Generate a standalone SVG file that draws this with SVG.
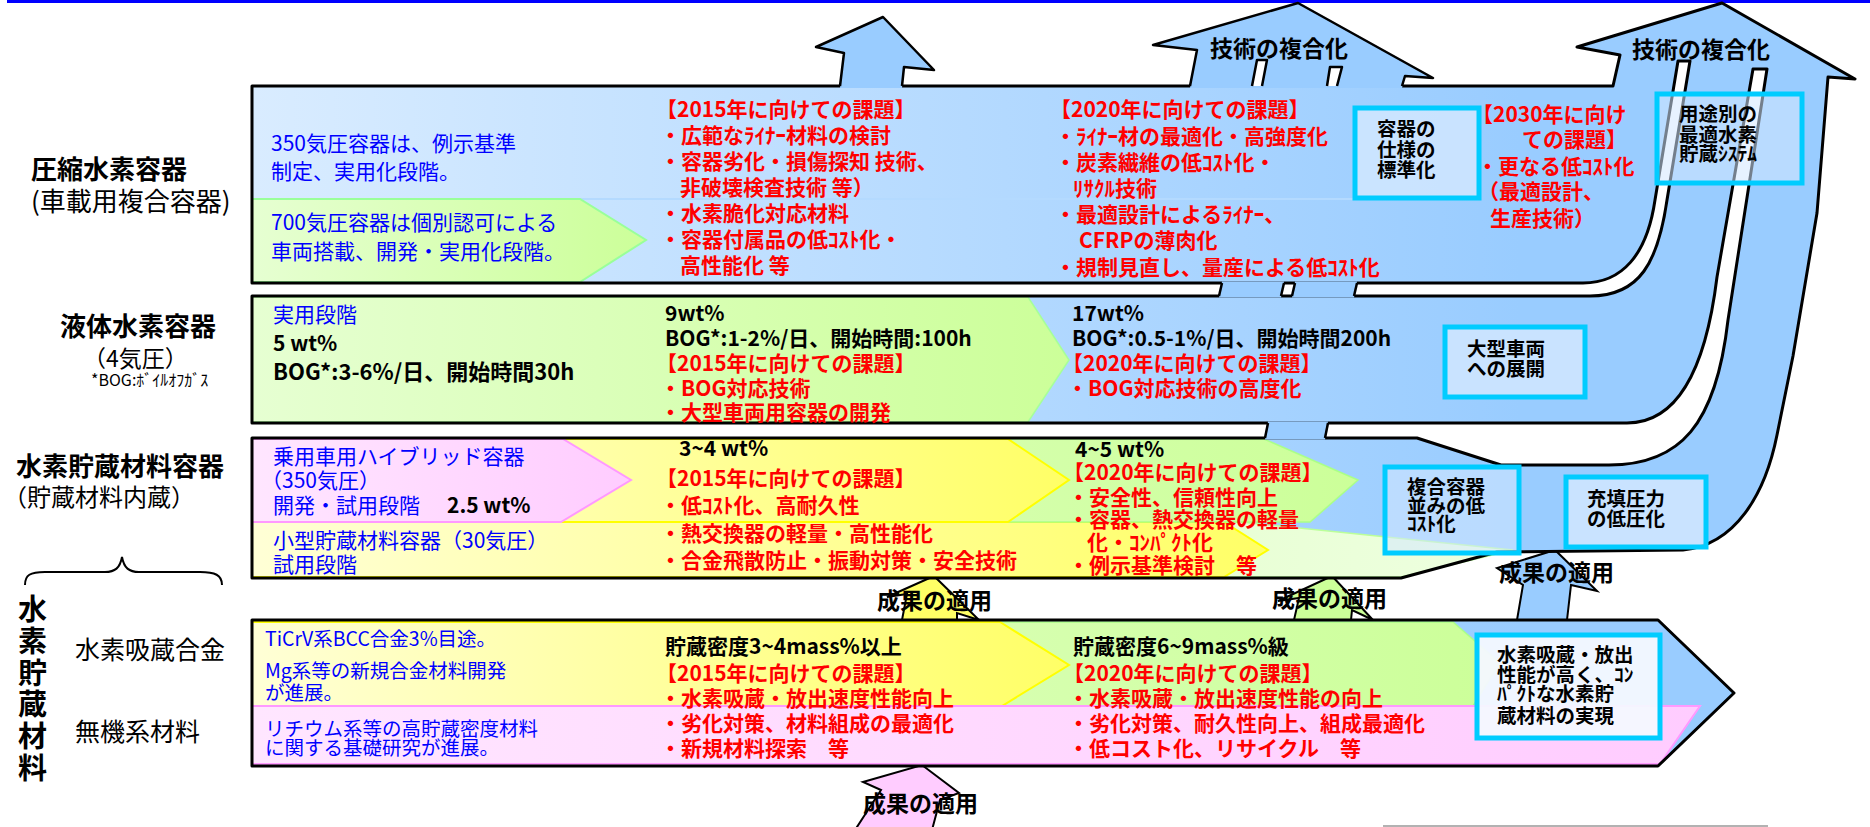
<svg xmlns="http://www.w3.org/2000/svg" width="1870" height="827" viewBox="0 0 1870 827">
<defs>
<linearGradient id="gBlue" gradientUnits="userSpaceOnUse" x1="252" y1="0" x2="1520" y2="0"><stop offset="0" stop-color="#D9ECFF"/><stop offset="1" stop-color="#99CCFF"/></linearGradient>
<linearGradient id="gGreen" x1="0" y1="0" x2="1" y2="0"><stop offset="0" stop-color="#E6FFD2"/><stop offset="1" stop-color="#CCFF99"/></linearGradient>
<linearGradient id="gGreenL" x1="0" y1="0" x2="1" y2="0"><stop offset="0" stop-color="#D6FFB0"/><stop offset="1" stop-color="#EEFFE0"/></linearGradient>
<linearGradient id="gYellow" x1="0" y1="0" x2="1" y2="0"><stop offset="0" stop-color="#FFFFD6"/><stop offset="1" stop-color="#FFFF66"/></linearGradient>
<linearGradient id="gPink" x1="0" y1="0" x2="1" y2="0"><stop offset="0" stop-color="#FFE6FF"/><stop offset="1" stop-color="#FFCCFF"/></linearGradient>
<style>
text{font-family:"Noto Sans CJK JP","Noto Sans CJK SC",sans-serif}
.ol{fill:none;stroke:#000;stroke-width:3;stroke-linejoin:round}
.ols{fill:none;stroke:#000;stroke-width:2.5;stroke-linejoin:round}
.bx{fill:#D4E8FF;fill-opacity:0.8;stroke:#00CCFF;stroke-width:5}
.r{fill:#FF0000;font-weight:bold;font-size:21px}
.b{fill:#0000FF;font-weight:normal;font-size:21px}
.b2{fill:#0000FF;font-size:19.5px}
.k{fill:#000;font-weight:bold;font-size:21px}
.t{fill:#000;font-weight:bold;font-size:19.5px}
.a{fill:#000;font-weight:bold;font-size:23px}
.L{fill:#000;font-weight:bold;font-size:26px}
.l{fill:#000;font-weight:normal;font-size:25px}
</style>
</defs>
<rect x="0" y="0" width="1870" height="827" fill="#FFFFFF"/>
<rect x="7" y="0" width="1863" height="3" fill="#0000FF"/>
<line x1="1383" y1="826" x2="1768" y2="826" stroke="#999999" stroke-width="1.5"/>

<!-- left labels -->
<g id="label-compressed">
<text class="L"><tspan x="31" y="179">圧縮水素容器</tspan><tspan class="l" x="31" y="211" style="font-size:26px">(車載用複合容器)</tspan></text>
</g>
<g id="label-liquid">
<text class="L"><tspan x="60" y="336">液体水素容器</tspan><tspan class="l" x="83" y="367" style="font-size:23px">（4気圧）</tspan><tspan class="l" x="91" y="386" style="font-size:16px">*BOG:ﾎﾞｲﾙｵﾌｶﾞｽ</tspan></text>
</g>
<g id="label-material-container">
<text class="L"><tspan x="16" y="476">水素貯蔵材料容器</tspan><tspan class="l" x="3" y="506" style="font-size:24px">（貯蔵材料内蔵）</tspan></text>
<path d="M25,585 C25,575 30,572 45,572 L105,572 C115,572 120,568 122,557 C124,568 129,572 139,572 L200,572 C215,572 222,575 222,585" fill="none" stroke="#000" stroke-width="2"/>
</g>
<g id="label-materials">
<text class="L" style="font-size:29px"><tspan x="18" y="620">水</tspan><tspan x="18" y="652">素</tspan><tspan x="18" y="684">貯</tspan><tspan x="18" y="715">蔵</tspan><tspan x="18" y="747">材</tspan><tspan x="18" y="779">料</tspan></text>
<text class="l" x="75" y="659">水素吸蔵合金</text>
<text class="l" x="75" y="741">無機系材料</text>
</g>

<!-- small result arrows (under bands) -->
<g id="connectors">
<polygon id="arrow-yellow" points="902,620 907,594 887,597 934,576 979,620 957,613 957,620" fill="#FFFF66" stroke="#000" stroke-width="2"/>
<polygon id="arrow-green" points="1294,620 1299,598 1278,601 1332,576 1373,620 1352,610 1351,620" fill="#CCFF99" stroke="#000" stroke-width="2"/>
<polygon id="arrow-blue" points="1517,620 1523,585 1497,568 1555,550 1597,591 1571,585 1567,620" fill="#99CCFF" stroke="#000" stroke-width="2"/>
<polygon id="arrow-pink" points="855,830 881,790 863,782 922,765 959,793 940,800 932,830" fill="#FFCCFF" stroke="#000" stroke-width="2"/>
</g>

<!-- band 4: hydrogen storage materials -->
<g id="band-materials">
<path d="M252,620 H1658 L1734,693 L1658,766 H252 Z" fill="url(#gBlue)"/>
<polygon points="252,622 1453,622 1500,663 1473,706 252,706" fill="url(#gGreen)" stroke="#AAFF88" stroke-width="1.5"/>
<polygon points="252,622 1000,622 1069,665 1002,706 252,706" fill="url(#gYellow)" stroke="#FFFF00" stroke-width="2"/>
<polygon points="252,706 1700,706 1660,764 252,764" fill="url(#gPink)" stroke="#FF99FF" stroke-width="2"/>
<path d="M252,620 H1658 L1734,693 L1658,766 H252 Z" class="ol"/>
</g>

<!-- bands 1-3 + big right arrow -->
<g id="band-complex">
<path id="cx" d="M252,86 H1613 L1620,55 L1577,47 L1722,3 L1855,79 L1828,77 L1817,213 L1793,356 L1777,435 C1765,495 1735,545 1683,550 L1497,552 L1401,578 H252 V438 H1417 L1501,465 H1609 C1680,465 1716,425 1728,320 L1767,69 L1753,69 L1717,277 C1705,375 1675,423 1627,423 H252 V296 H1590 C1640,296 1658,262 1667,200 L1690,61 L1678,61 L1655,200 C1647,255 1622,283 1583,283 H252 Z" fill="url(#gBlue)"/>
<line x1="252" y1="199" x2="1360" y2="199" stroke="#B4DAFF" stroke-width="2"/>
<polygon points="252,199 580,199 646,240 580,282 252,282" fill="url(#gGreen)" stroke="#99FF99" stroke-width="2"/>
<polygon points="252,297 1028,297 1069,360 1028,422 252,422" fill="url(#gGreen)" stroke="#A6FF99" stroke-width="1.5"/>
<polygon points="252,522 1240,522 1513,550 1401,577 252,577" fill="url(#gGreenL)" stroke="#BBFF99" stroke-width="1.5"/>
<polygon points="252,522 1224,522 1268,550 1224,577 252,577" fill="url(#gYellow)" stroke="#FFFF00" stroke-width="2"/>
<polygon points="252,439 1264,439 1358,480 1310,522 252,522" fill="url(#gGreen)" stroke="#AAFF88" stroke-width="1.5"/>
<polygon points="252,439 1008,439 1069,480 1008,522 252,522" fill="url(#gYellow)" stroke="#FFFF00" stroke-width="2"/>
<polygon points="252,439 563,439 631,480 561,522 252,522" fill="url(#gPink)" stroke="#FF99FF" stroke-width="2"/>
<path d="M252,86 H1613 L1620,55 L1577,47 L1722,3 L1855,79 L1828,77 L1817,213 L1793,356 L1777,435 C1765,495 1735,545 1683,550 L1497,552 L1401,578 H252 V438 H1417 L1501,465 H1609 C1680,465 1716,425 1728,320 L1767,69 L1753,69 L1717,277 C1705,375 1675,423 1627,423 H252 V296 H1590 C1640,296 1658,262 1667,200 L1690,61 L1678,61 L1655,200 C1647,255 1622,283 1583,283 H252 Z" class="ol"/>
</g>

<!-- arrows on top of band 1 and strand pieces between bands -->
<g id="arrow-small">
<polygon points="840,88 844,53 816,47 883,17 934,70 904,67 902,88" fill="#99CCFF"/>
<polyline points="840,86 844,53 816,47 883,17 934,70 904,67 902,86" class="ols"/>
</g>
<g id="arrow-middle">
<polygon points="1190,88 1197,50 1153,45 1298,3 1433,78 1405,76 1402,88" fill="#99CCFF"/>
<polyline points="1190,86 1197,50 1153,45 1298,3 1433,78 1405,76 1402,86" class="ols"/>
<polygon points="1252,86 1257,60 1267,60 1262,86" fill="#FFFFFF"/>
<polyline points="1252,86 1257,60 1267,60 1262,86" class="ols"/>
<polygon points="1327,86 1330,67 1342,67 1337,86" fill="#FFFFFF"/>
<polyline points="1327,86 1330,67 1342,67 1337,86" class="ols"/>
<text class="a" x="1210" y="57">技術の複合化</text>
</g>
<g id="strand-pieces">
<polygon points="1222,281.5 1284,281.5 1281,297.5 1219,297.5" fill="#99CCFF"/>
<line x1="1222" y1="283" x2="1219" y2="296" class="ols"/>
<line x1="1284" y1="283" x2="1281" y2="296" class="ols"/>
<polygon points="1295,281.5 1357,281.5 1354,297.5 1292,297.5" fill="#99CCFF"/>
<line x1="1295" y1="283" x2="1292" y2="296" class="ols"/>
<line x1="1357" y1="283" x2="1354" y2="296" class="ols"/>
<polygon points="1268,421.5 1328,421.5 1325,439.5 1265,439.5" fill="#99CCFF"/>
<line x1="1268" y1="423" x2="1265" y2="438" class="ols"/>
<line x1="1328" y1="423" x2="1325" y2="438" class="ols"/>
</g>
<g id="arrow-right-label"><text class="a" x="1632" y="58">技術の複合化</text></g>

<!-- goal boxes -->
<g id="box-standard">
<rect x="1355" y="108" width="124" height="90" class="bx"/>
<text class="t"><tspan x="1377" y="136">容器の</tspan><tspan x="1377" y="157">仕様の</tspan><tspan x="1377" y="177">標準化</tspan></text>
</g>
<g id="box-system">
<rect x="1657" y="94" width="145" height="89" class="bx" style="fill-opacity:0.55"/>
<text class="t"><tspan x="1679" y="121">用途別の</tspan><tspan x="1679" y="142">最適水素</tspan><tspan x="1679" y="161">貯蔵ｼｽﾃﾑ</tspan></text>
</g>
<g id="box-large-vehicle">
<rect x="1445" y="327" width="140" height="70" class="bx"/>
<text class="t"><tspan x="1467" y="356">大型車両</tspan><tspan x="1467" y="376">への展開</tspan></text>
</g>
<g id="box-lowcost">
<rect x="1385" y="467" width="134" height="86" class="bx" style="fill-opacity:0.55"/>
<text class="t"><tspan x="1407" y="494">複合容器</tspan><tspan x="1407" y="513">並みの低</tspan><tspan x="1407" y="531">ｺｽﾄ化</tspan></text>
</g>
<g id="box-pressure">
<rect x="1566" y="477" width="140" height="70" class="bx"/>
<text class="t"><tspan x="1587" y="506">充填圧力</tspan><tspan x="1587" y="526">の低圧化</tspan></text>
</g>
<g id="box-compact">
<rect x="1477" y="635" width="183" height="103" class="bx" style="fill:#F4F8FF;fill-opacity:0.95"/>
<text class="t"><tspan x="1497" y="662">水素吸蔵・放出</tspan><tspan x="1497" y="682">性能が高く、ｺﾝ</tspan><tspan x="1497" y="701">ﾊﾟｸﾄな水素貯</tspan><tspan x="1497" y="723">蔵材料の実現</tspan></text>
</g>

<!-- band 1 texts -->
<g id="text-band1">
<text class="b"><tspan x="271" y="151">350気圧容器は、例示基準</tspan><tspan x="271" y="179">制定、実用化段階。</tspan></text>
<text class="b"><tspan x="271" y="230">700気圧容器は個別認可による</tspan><tspan x="271" y="259">車両搭載、開発・実用化段階。</tspan></text>
<text class="r"><tspan x="656" y="117">【2015年に向けての課題】</tspan><tspan x="660" y="143">・広範なﾗｲﾅｰ材料の検討</tspan><tspan x="660" y="169">・容器劣化・損傷探知 技術、</tspan><tspan x="680" y="195">非破壊検査技術 等）</tspan><tspan x="660" y="221">・水素脆化対応材料</tspan><tspan x="660" y="247">・容器付属品の低ｺｽﾄ化・</tspan><tspan x="680" y="273">高性能化 等</tspan></text>
<text class="r"><tspan x="1050" y="117">【2020年に向けての課題】</tspan><tspan x="1055" y="144">・ﾗｲﾅｰ材の最適化・高強度化</tspan><tspan x="1055" y="170">・炭素繊維の低ｺｽﾄ化・</tspan><tspan x="1073" y="196">ﾘｻｸﾙ技術</tspan><tspan x="1055" y="222">・最適設計によるﾗｲﾅｰ、</tspan><tspan x="1079" y="248">CFRPの薄肉化</tspan><tspan x="1055" y="275">・規制見直し、量産による低ｺｽﾄ化</tspan></text>
<text class="r"><tspan x="1472" y="122">【2030年に向け</tspan><tspan x="1522" y="147">ての課題】</tspan><tspan x="1477" y="174">・更なる低ｺｽﾄ化</tspan><tspan x="1478" y="199">（最適設計、</tspan><tspan x="1490" y="226">生産技術）</tspan></text>
</g>

<!-- band 2 texts -->
<g id="text-band2">
<text class="k"><tspan class="b" x="273" y="322">実用段階</tspan><tspan x="273" y="351">5 wt%</tspan><tspan x="273" y="380" style="font-size:22px">BOG*:3-6%/日、開始時間30h</tspan></text>
<text class="k"><tspan x="665" y="321">9wt%</tspan><tspan x="665" y="346">BOG*:1-2%/日、開始時間:100h</tspan><tspan class="r" x="656" y="371">【2015年に向けての課題】</tspan><tspan class="r" x="660" y="396">・BOG対応技術</tspan><tspan class="r" x="660" y="420">・大型車両用容器の開発</tspan></text>
<text class="k"><tspan x="1072" y="321">17wt%</tspan><tspan x="1072" y="346">BOG*:0.5-1%/日、開始時間200h</tspan><tspan class="r" x="1062" y="371">【2020年に向けての課題】</tspan><tspan class="r" x="1067" y="396">・BOG対応技術の高度化</tspan></text>
</g>

<!-- band 3 texts -->
<g id="text-band3">
<text class="b"><tspan x="273" y="464">乗用車用ハイブリッド容器</tspan><tspan x="261" y="488">（350気圧）</tspan><tspan x="273" y="513">開発・試用段階</tspan><tspan class="k" x="447" y="513">2.5 wt%</tspan></text>
<text class="b"><tspan x="273" y="548">小型貯蔵材料容器（30気圧）</tspan><tspan x="273" y="572">試用段階</tspan></text>
<text class="r"><tspan class="k" x="679" y="456">3~4 wt%</tspan><tspan x="656" y="486">【2015年に向けての課題】</tspan><tspan x="660" y="513">・低ｺｽﾄ化、高耐久性</tspan><tspan x="660" y="541">・熱交換器の軽量・高性能化</tspan><tspan x="660" y="568">・合金飛散防止・振動対策・安全技術</tspan></text>
<text class="r"><tspan class="k" x="1075" y="457">4~5 wt%</tspan><tspan x="1063" y="480">【2020年に向けての課題】</tspan><tspan x="1068" y="505">・安全性、信頼性向上</tspan><tspan x="1068" y="527">・容器、熱交換器の軽量</tspan><tspan x="1087" y="550">化・ｺﾝﾊﾟｸﾄ化</tspan><tspan x="1068" y="573">・例示基準検討　等</tspan></text>
</g>

<!-- band 4 texts -->
<g id="text-band4">
<text class="b2"><tspan x="265" y="646">TiCrV系BCC合金3%目途。</tspan><tspan x="265" y="678">Mg系等の新規合金材料開発</tspan><tspan x="265" y="700">が進展。</tspan></text>
<text class="b2"><tspan x="265" y="736">リチウム系等の高貯蔵密度材料</tspan><tspan x="265" y="755">に関する基礎研究が進展。</tspan></text>
<text class="r"><tspan class="k" x="665" y="654">貯蔵密度3~4mass%以上</tspan><tspan x="656" y="681">【2015年に向けての課題】</tspan><tspan x="660" y="706">・水素吸蔵・放出速度性能向上</tspan><tspan x="660" y="731">・劣化対策、材料組成の最適化</tspan><tspan x="660" y="756">・新規材料探索　等</tspan></text>
<text class="r"><tspan class="k" x="1073" y="654">貯蔵密度6~9mass%級</tspan><tspan x="1063" y="681">【2020年に向けての課題】</tspan><tspan x="1068" y="706">・水素吸蔵・放出速度性能の向上</tspan><tspan x="1068" y="731">・劣化対策、耐久性向上、組成最適化</tspan><tspan x="1068" y="756">・低コスト化、リサイクル　等</tspan></text>
</g>

<!-- result-application labels -->
<g id="labels-apply">
<text class="a" x="877" y="609">成果の適用</text>
<text class="a" x="1272" y="607">成果の適用</text>
<text class="a" x="1499" y="581">成果の適用</text>
<text class="a" x="863" y="812">成果の適用</text>
</g>
</svg>
